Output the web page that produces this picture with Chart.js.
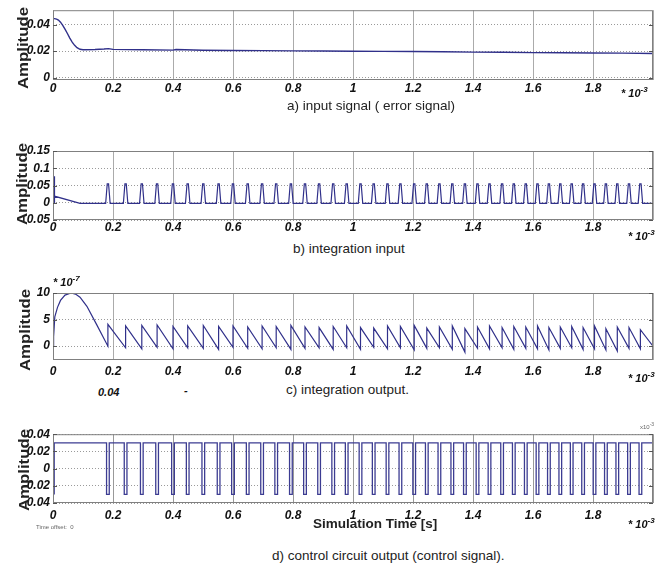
<!DOCTYPE html>
<html>
<head>
<meta charset="utf-8">
<script src="https://cdn.jsdelivr.net/npm/chart.js@4.4.1/dist/chart.umd.min.js"></script>
<style>
  body { margin: 0; background: #fff; }
  #wrap { position: relative; width: 666px; height: 569px; overflow: hidden; font-family: 'Liberation Sans', Arial, sans-serif; color: #222; }
  canvas { position: absolute; left: 0; }
  .lbl { position: absolute; white-space: nowrap; line-height: 14px; z-index: 2; }
  .cap { font-size: 13.5px; }
  .amp { font-weight: bold; font-size: 14px; transform: translate(-50%, -50%) rotate(-90deg) scaleX(1.2); }
  .exp { font-weight: bold; font-style: italic; font-size: 11px; line-height: 11px; color: #111; }
  .exp sup { font-size: 8px; line-height: 0; vertical-align: 5px; }
  .tiny { font-size: 6px; line-height: 6px; color: #666; }
</style>
</head>
<body>
<div id="wrap">
  <canvas id="chartA" width="666" height="100" style="top:0px"></canvas>
  <canvas id="chartB" width="666" height="100" style="top:140px"></canvas>
  <canvas id="chartC" width="666" height="100" style="top:280px"></canvas>
  <canvas id="chartD" width="666" height="100" style="top:424px"></canvas>

  <div class="lbl amp" style="left:23px; top:48px">Amplitude</div>
  <div class="lbl amp" style="left:22px; top:184px">Amplitude</div>
  <div class="lbl amp" style="left:25px; top:330px">Amplitude</div>
  <div class="lbl amp" style="left:24px; top:470px">Amplitude</div>

  <div class="lbl cap" style="left:287px; top:99px">a) input signal ( error signal)</div>
  <div class="lbl cap" style="left:293px; top:242px">b) integration input</div>
  <div class="lbl cap" style="left:286px; top:383px">c) integration output.</div>
  <div class="lbl cap" style="left:272px; top:549px">d) control circuit output (control signal).</div>

  <div class="lbl exp" style="left:621px; top:88px">* 10<sup>-3</sup></div>
  <div class="lbl exp" style="left:628px; top:231px">* 10<sup>-3</sup></div>
  <div class="lbl exp" style="left:628px; top:373px">* 10<sup>-3</sup></div>
  <div class="lbl exp" style="left:628px; top:519px">* 10<sup>-3</sup></div>
  <div class="lbl exp" style="left:53px; top:277px">* 10<sup>-7</sup></div>

  <div class="lbl exp" style="left:98px; top:387px">0.04</div>
  <div class="lbl exp" style="left:184px; top:385px">-</div>

  <div class="lbl" style="left:313px; top:517px; font-weight:bold; font-size:13.5px">Simulation Time [s]</div>
  <div class="lbl tiny" style="left:36px; top:524px">Time offset:&nbsp; 0</div>
  <div class="lbl tiny" style="left:640px; top:421px">x10<sup style="font-size:5px">-3</sup></div>
</div>

<script>
// time axis in units of 1e-3 s
const xTicks = [0, 0.2, 0.4, 0.6, 0.8, 1, 1.2, 1.4, 1.6, 1.8, 2];
const xTickLabels = ['0', '0.2', '0.4', '0.6', '0.8', '1', '1.2', '1.4', '1.6', '1.8', ''];

// a) input signal (error signal)
const errT = [0, 0.005, 0.012, 0.018, 0.025, 0.032, 0.04, 0.048, 0.056, 0.064, 0.072, 0.08, 0.09, 0.1, 0.14, 0.17, 0.185, 0.2, 0.3, 0.4, 0.41, 0.5, 0.6, 0.7, 0.8, 0.9, 1.0, 1.1, 1.2, 1.3, 1.4, 1.5, 1.6, 1.7, 1.8, 1.9, 2.0];
const errV = [0.0445, 0.0445, 0.0441, 0.0434, 0.0418, 0.0395, 0.0365, 0.0333, 0.0298, 0.0268, 0.0244, 0.0226, 0.0214, 0.0211, 0.0212, 0.0216, 0.0219, 0.0213, 0.0211, 0.0208, 0.0212, 0.0207, 0.0205, 0.0204, 0.0202, 0.0201, 0.0199, 0.0198, 0.0197, 0.0195, 0.0193, 0.0192, 0.0189, 0.0188, 0.0186, 0.0185, 0.0182];
const yTicksA = [0, 0.02, 0.04];
const yLabelsA = ['0', '0.02', '0.04'];

// switching instants (1e-3 s)
const pulseTimes = [0.183, 0.242, 0.296, 0.347, 0.400, 0.449, 0.501, 0.552, 0.600, 0.649, 0.697, 0.744, 0.793, 0.840, 0.887, 0.934, 0.979, 1.025, 1.069, 1.115, 1.158, 1.204, 1.246, 1.288, 1.331, 1.373, 1.415, 1.455, 1.497, 1.536, 1.576, 1.615, 1.653, 1.691, 1.729, 1.767, 1.805, 1.843, 1.881, 1.920, 1.958];

// b) integration input
const intInStartT = [0.004, 0.004, 0.006, 0.09];
const intInStartV = [0, 0.077, 0.019, -0.002];
const intInPulseDx = [-0.0075, -0.0022, 0.0022, 0.0075];
const intInPulseV = [-0.002, 0.055, 0.055, -0.002];
const yTicksB = [-0.05, 0, 0.05, 0.1, 0.15];
const yLabelsB = ['0.05', '0', '0.05', '0.1', '0.15'];

// c) integration output (x 1e-7)
const intOutStartT = [0.001, 0.002, 0.006, 0.015, 0.025, 0.04, 0.06, 0.075, 0.09, 0.113, 0.146, 0.183];
const intOutStartV = [0, 1.8, 5.5, 7.3, 8.6, 9.6, 10, 9.8, 9.2, 7.5, 4.0, 0];
const sawTrough = [0, -0.3, -0.5, -0.2, -0.5, -0.3, -0.4, -0.6, -0.2, -0.4, -0.5, -0.3, -0.6, -0.4, -0.3, -0.6, -0.3, -0.6, -0.2, -0.5, -0.3, -0.7, -0.4, -0.3, -0.6, -1.1, -0.4, -0.5, -0.3, -0.6, -0.4, -0.5, -0.7, -0.4, -0.3, -0.6, -0.5, -0.7, -0.9, -0.4, -0.5];
const sawPeak = [4.1, 3.8, 3.9, 4.0, 3.7, 3.8, 3.9, 3.7, 3.8, 3.6, 3.8, 3.7, 3.9, 3.6, 3.5, 3.7, 3.8, 3.5, 3.4, 3.8, 3.7, 3.9, 3.4, 3.6, 3.8, 3.3, 3.6, 3.8, 3.5, 3.7, 3.6, 3.8, 3.5, 3.6, 3.7, 3.5, 3.8, 3.3, 3.6, 3.5, 3.1];
const intOutEndV = 0;
const yTicksC = [0, 5, 10];
const yLabelsC = ['0', '5', '10'];

// d) control circuit output
const ctrlStartT = 0.004;
const ctrlStartV = [-0.03, 0.03];
const ctrlPulseDx = [-0.0045, -0.0045, 0.0045, 0.0045];
const ctrlPulseV = [0.03, -0.03, -0.03, 0.03];
const yTicksD = [-0.04, -0.02, 0, 0.02, 0.04];
const yLabelsD = ['0.04', '0.02', '0', '0.02', '0.04'];

const lineColor = '#30308a';
const tickFont = { family: "'Liberation Sans Narrow', 'Liberation Sans', Arial, sans-serif", size: 12, weight: 'bold', style: 'italic' };

// build point lists
const pointsA = errT.map((t, i) => ({ x: t, y: errV[i] }));

const pointsB = intInStartT.map((t, i) => ({ x: t, y: intInStartV[i] }));
pulseTimes.forEach(t => intInPulseDx.forEach((d, j) => pointsB.push({ x: t + d, y: intInPulseV[j] })));
pointsB.push({ x: 2, y: intInPulseV[0] });

const pointsC = intOutStartT.map((t, i) => ({ x: t, y: intOutStartV[i] }));
pulseTimes.forEach((t, i) => {
    pointsC.push({ x: t, y: sawTrough[i] });
    pointsC.push({ x: t, y: sawPeak[i] });
});
pointsC.push({ x: 2, y: intOutEndV });

const pointsD = ctrlStartV.map(v => ({ x: ctrlStartT, y: v }));
pulseTimes.forEach(t => ctrlPulseDx.forEach((d, j) => pointsD.push({ x: t + d, y: ctrlPulseV[j] })));
pointsD.push({ x: 2, y: ctrlPulseV[3] });

// plot frame + small inward y ticks on both sides
const framePlugin = {
    id: 'frame',
    afterDraw(chart) {
        const { ctx, chartArea: a, scales } = chart;
        ctx.save();
        ctx.strokeStyle = '#808080';
        ctx.lineWidth = 1;
        ctx.strokeRect(a.left + 0.5, a.top + 0.5, a.right - a.left - 1, a.bottom - a.top - 1);
        ctx.strokeStyle = '#555';
        scales.y.ticks.forEach(tk => {
            const y = Math.round(scales.y.getPixelForValue(tk.value)) + 0.5;
            ctx.beginPath();
            ctx.moveTo(a.left, y); ctx.lineTo(a.left + 4, y);
            ctx.moveTo(a.right - 4, y); ctx.lineTo(a.right, y);
            ctx.stroke();
        });
        ctx.restore();
    }
};

function makeChart(id, points, opt) {
    return new Chart(document.getElementById(id), {
        type: 'line',
        data: {
            datasets: [{
                data: points,
                borderColor: opt.color || lineColor,
                borderWidth: opt.lw || 1.2,
                pointRadius: 0,
                tension: 0
            }]
        },
        options: {
            responsive: false,
            animation: false,
            layout: { padding: { top: opt.padTop, right: 13, left: 0, bottom: 0 } },
            plugins: { legend: { display: false }, tooltip: { enabled: false } },
            scales: {
                x: {
                    type: 'linear',
                    min: 0,
                    max: 2,
                    afterBuildTicks: s => { s.ticks = xTicks.map(v => ({ value: v })); },
                    afterFit: s => { s.height = opt.xAxisH; },
                    ticks: {
                        autoSkip: false,
                        maxRotation: 0,
                        padding: opt.xPad,
                        color: '#111',
                        font: tickFont,
                        callback: (v, i) => xTickLabels[i]
                    },
                    grid: { color: opt.vGrid || '#ababab', lineWidth: 1, drawTicks: false },
                    border: { display: false }
                },
                y: {
                    min: opt.yMin,
                    max: opt.yMax,
                    afterBuildTicks: s => { s.ticks = opt.yTicks.map(v => ({ value: v })); },
                    afterFit: s => { s.width = 53; },
                    ticks: {
                        autoSkip: false,
                        padding: 3,
                        color: '#111',
                        font: tickFont,
                        callback: (v, i) => opt.yLabels[i]
                    },
                    grid: { color: '#9a9a9a', lineWidth: 1, drawTicks: false },
                    border: { display: false, dash: [1, 2] }
                }
            }
        },
        plugins: [framePlugin]
    });
}

makeChart('chartA', pointsA, { padTop: 7, xAxisH: 20, xPad: 1, yMin: -0.0017, yMax: 0.0508, yTicks: yTicksA, yLabels: yLabelsA, lw: 1.4 });
makeChart('chartB', pointsB, { padTop: 11, xAxisH: 20, xPad: 0, yMin: -0.05, yMax: 0.15, yTicks: yTicksB, yLabels: yLabelsB });
makeChart('chartC', pointsC, { padTop: 13, xAxisH: 20, xPad: 4, yMin: -2.6, yMax: 10, yTicks: yTicksC, yLabels: yLabelsC });
makeChart('chartD', pointsD, { padTop: 10, xAxisH: 21, xPad: 5, yMin: -0.04, yMax: 0.04, yTicks: yTicksD, yLabels: yLabelsD, color: '#3c3c92', vGrid: '#999', lw: 1.3 });
</script>
</body>
</html>
